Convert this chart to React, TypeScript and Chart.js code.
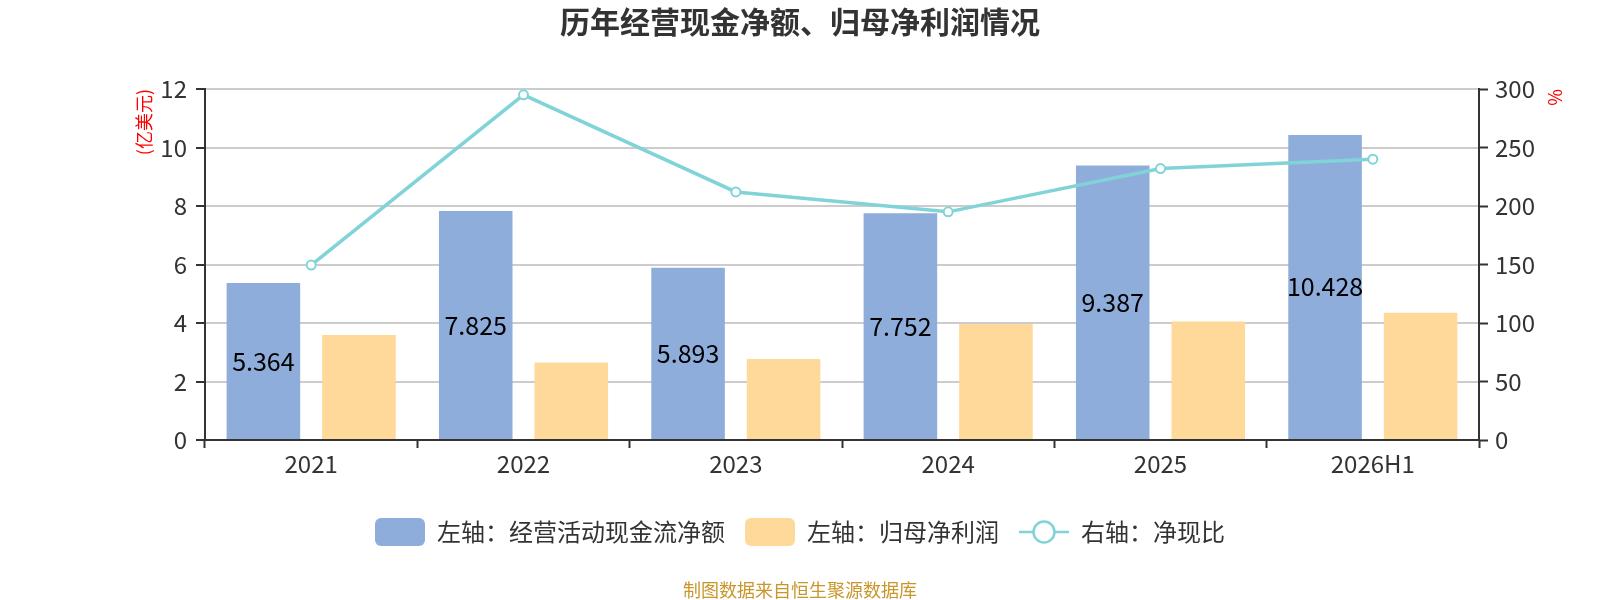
import { useEffect, useRef } from "react";
import { Chart, registerables, Plugin } from "chart.js";

Chart.register(...registerables);

// 數據
const years = ["2021", "2022", "2023", "2024", "2025", "2026H1"];
const cashFlow = [5.364, 7.825, 5.893, 7.752, 9.387, 10.428]; // 經營活動現金流淨額（億美元）
const netProfit = [3.59, 2.65, 2.77, 3.97, 4.05, 4.35]; // 歸母淨利潤（億美元）
const cashRatio = [149.5, 295, 212, 195, 232, 240]; // 淨現比 %

const seriesNames = ["左轴：经营活动现金流净额", "左轴：归母净利润", "右轴：净现比"];
const titleText = "历年经营现金净额、归母净利润情况";
const sourceText = "制图数据来自恒生聚源数据库";

const FONT = '"Noto Sans CJK SC", "Noto Sans", sans-serif';
const BLUE = "#8eaddb";
const ORANGE = "#ffd999";
const TEAL = "#80d4d7";
const DARK = "#333333";

function makeBoxIcon(color: string) {
  const c = document.createElement("canvas");
  c.width = 50;
  c.height = 28;
  const g = c.getContext("2d")!;
  g.fillStyle = color;
  g.beginPath();
  g.roundRect(0, 0, 50, 28, 6);
  g.fill();
  return c;
}

function makeLineIcon(color: string) {
  const c = document.createElement("canvas");
  c.width = 50;
  c.height = 28;
  const g = c.getContext("2d")!;
  g.strokeStyle = color;
  g.lineWidth = 2.5;
  g.beginPath();
  g.moveTo(0, 14);
  g.lineTo(50, 14);
  g.stroke();
  g.beginPath();
  g.arc(25, 14, 10.5, 0, Math.PI * 2);
  g.fillStyle = "#fff";
  g.fill();
  g.stroke();
  return c;
}

// 柱內數值標籤
const barLabels: Plugin<"bar"> = {
  id: "barLabels",
  afterDatasetsDraw(chart) {
    const ctx = chart.ctx;
    const meta = chart.getDatasetMeta(1);
    ctx.save();
    ctx.font = `25px ${FONT}`;
    ctx.fillStyle = "#000";
    ctx.textAlign = "center";
    ctx.textBaseline = "middle";
    meta.data.forEach((bar, i) => {
      const { x, y, base } = bar.getProps(["x", "y", "base"], true) as any;
      ctx.fillText(String(cashFlow[i]), x, (y + base) / 2);
    });
    ctx.restore();
  },
};

// 資料來源
const sourceNote: Plugin<"bar"> = {
  id: "sourceNote",
  afterDraw(chart) {
    const ctx = chart.ctx;
    ctx.save();
    ctx.font = `18px ${FONT}`;
    ctx.fillStyle = "#c8962b";
    ctx.textAlign = "center";
    ctx.textBaseline = "middle";
    ctx.fillText(sourceText, chart.width / 2, 590);
    ctx.restore();
  },
};

export default function App() {
  const canvasRef = useRef<HTMLCanvasElement>(null);
  const chartRef = useRef<Chart | null>(null);

  useEffect(() => {
    document.body.style.margin = "0";
    if (!canvasRef.current) return;
    if (chartRef.current) {
      chartRef.current.destroy();
      chartRef.current = null;
    }

    Chart.defaults.font.family = FONT;

    const icons: Record<number, HTMLCanvasElement> = {
      0: makeLineIcon(TEAL),
      1: makeBoxIcon(BLUE),
      2: makeBoxIcon(ORANGE),
    };
    // 圖例順序：柱 → 柱 → 線
    const legendRank = (i?: number) => (i === 0 ? 3 : i ?? 0);

    chartRef.current = new Chart(canvasRef.current, {
      type: "bar",
      data: {
        labels: years,
        datasets: [
          {
            type: "line",
            label: seriesNames[2],
            data: cashRatio,
            yAxisID: "y1",
            borderColor: TEAL,
            borderWidth: 3.5,
            pointRadius: 4.5,
            pointBorderWidth: 2,
            pointBackgroundColor: "#fff",
            pointBorderColor: TEAL,
            tension: 0,
            order: 0,
          } as any,
          {
            label: seriesNames[0],
            data: cashFlow,
            yAxisID: "y",
            backgroundColor: BLUE,
            categoryPercentage: 0.9,
            barPercentage: 0.77,
            order: 1,
          },
          {
            label: seriesNames[1],
            data: netProfit,
            yAxisID: "y",
            backgroundColor: ORANGE,
            categoryPercentage: 0.9,
            barPercentage: 0.77,
            order: 1,
          },
        ],
      },
      options: {
        responsive: true,
        maintainAspectRatio: false,
        animation: false,
        events: [],
        layout: { padding: { left: 0, right: 0, top: 0, bottom: 46 } },
        plugins: {
          title: {
            display: true,
            text: titleText,
            color: DARK,
            font: { size: 30, weight: "bold", family: FONT },
            padding: { top: 4, bottom: 49 },
          },
          legend: {
            position: "bottom",
            labels: {
              usePointStyle: true,
              pointStyleWidth: 50,
              color: DARK,
              font: { size: 24, family: FONT },
              padding: 20,
              sort: (a, b) => legendRank(a.datasetIndex) - legendRank(b.datasetIndex),
              generateLabels: (chart) => {
                const items = Chart.defaults.plugins.legend.labels.generateLabels(chart);
                return items.map((item) => ({ ...item, pointStyle: icons[item.datasetIndex ?? 0] }));
              },
            },
          },
          tooltip: { enabled: false },
        },
        scales: {
          x: {
            offset: true,
            afterFit: (scale) => {
              scale.height = 60;
            },
            border: { color: DARK, width: 2 },
            grid: {
              offset: true,
              drawOnChartArea: false,
              tickLength: 8,
              tickColor: DARK,
              tickWidth: 2,
            },
            ticks: { color: DARK, font: { size: 24 }, padding: 1 },
          },
          y: {
            position: "left",
            min: 0,
            max: 12,
            afterFit: (scale) => {
              scale.width = 205;
            },
            border: { color: DARK, width: 2 },
            grid: { color: "#cccccc", lineWidth: 2, tickLength: 9, tickColor: DARK, tickWidth: 2 },
            ticks: { stepSize: 2, color: DARK, font: { size: 24 }, padding: 9 },
            title: {
              display: true,
              text: "(亿美元)",
              align: "end",
              color: "#ff0000",
              font: { size: 18 },
              padding: { top: 133, bottom: 0 },
            },
          },
          y1: {
            position: "right",
            min: 0,
            max: 300,
            afterFit: (scale) => {
              scale.width = 121;
            },
            border: { color: DARK, width: 2 },
            grid: { drawOnChartArea: false, tickLength: 9, tickColor: DARK, tickWidth: 2 },
            ticks: { stepSize: 50, color: DARK, font: { size: 24 }, padding: 7 },
            title: {
              display: true,
              text: "%",
              align: "end",
              color: "#ff0000",
              font: { size: 18 },
              padding: { top: 34, bottom: 0 },
            },
          },
        },
      },
      plugins: [barLabels as any, sourceNote as any],
    });

    return () => {
      if (chartRef.current) {
        chartRef.current.destroy();
        chartRef.current = null;
      }
    };
  }, []);

  return (
    <div style={{ position: "relative", width: "1600px", height: "600px" }}>
      <canvas ref={canvasRef}></canvas>
    </div>
  );
}
